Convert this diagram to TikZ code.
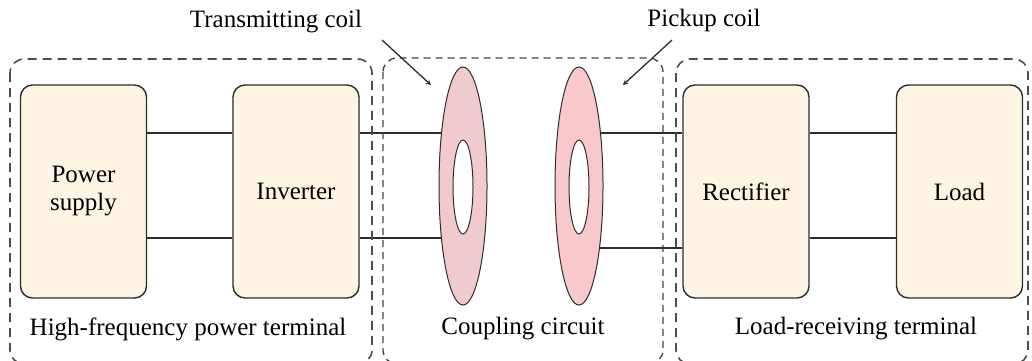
\documentclass[tikz,border=0pt]{standalone}
\usepackage{fontspec}
\setmainfont{Liberation Serif}
\usepackage{tikz}
\usetikzlibrary{shapes.geometric, backgrounds}

\definecolor{boxfill}{RGB}{253,244,228}
\definecolor{coilA}{RGB}{241,202,205}
\definecolor{coilB}{RGB}{248,200,203}
\definecolor{edge}{RGB}{45,45,45}

\tikzset{
  block/.style={draw=edge, line width=1.4pt, fill=boxfill, rounded corners=12pt,
    minimum width=126pt, minimum height=213pt, align=center, inner sep=0pt},
  group/.style={draw=edge!85, line width=1.6pt, dash pattern=on 9pt off 6pt, rounded corners=14pt},
  subgroup/.style={draw=edge!90, line width=1.3pt, dash pattern=on 7pt off 5pt, rounded corners=14pt},
  coil/.style={ellipse, draw=edge, line width=1pt, inner sep=0pt,
    minimum width=48pt, minimum height=238pt},
  hole/.style={ellipse, draw=edge, line width=1pt, fill=white, inner sep=0pt,
    minimum width=20pt, minimum height=94pt},
  wire/.style={draw=edge, line width=1.2pt}
}

\begin{document}
\begin{tikzpicture}[x=1pt, y=-1pt, font=\fontsize{25}{28}\selectfont]
  \useasboundingbox (0,0) rectangle (1032,360);
  \begin{scope}
  \clip (0,0) rectangle (1032,360);

  % terminals
  \draw[group] (10,59) rectangle (372,364);
  \draw[subgroup] (383,58) rectangle (663,364);
  \draw[group] (676,59) rectangle (1028,364);

  \node[block] (ps)   at (83.5,191.5)  {Power\\supply};
  \node[block] (inv)  at (296,191.5)   {Inverter};
  \node[block] (rect) at (746,191.5)   {Rectifier};
  \node[block] (load) at (959.5,191.5) {Load};

  \node[coil, fill=coilA] (tx) at (463,186) {};
  \node[hole] (txh) at (463,187) {};
  \node[coil, fill=coilB] (rx) at (579,186) {};
  \node[hole] (rxh) at (579,187) {};

  \coordinate (hi) at (0,133);
  \coordinate (lo) at (0,238);
  \coordinate (lo2) at (0,248);

  \begin{scope}[on background layer]
    \draw[wire] (ps.east |- hi) -- (inv.west |- hi);
    \draw[wire] (ps.east |- lo) -- (inv.west |- lo);
    \draw[wire] (inv.east |- hi) -- (tx.center |- hi);
    \draw[wire] (inv.east |- lo) -- (tx.center |- lo);
    \draw[wire] (rx.center |- hi) -- (rect.west |- hi);
    \draw[wire] (rx.center |- lo2) -- (rect.west |- lo2);
    \draw[wire] (rect.east |- hi) -- (load.west |- hi);
    \draw[wire] (rect.east |- lo) -- (load.west |- lo);
  \end{scope}

  % labels
  \node (lblA) at (188,329) {High-frequency power terminal};
  \node (lblB) at (523,329) {Coupling circuit};
  \node (lblC) at (856,329) {Load-receiving terminal};

  \node (txl) at (276,22) {Transmitting coil};
  \node (rxl) at (704,20) {Pickup coil};
  \coordinate (txa) at (382,40);
  \coordinate (txb) at (431,85);
  \coordinate (rxa) at (672,40);
  \coordinate (rxb) at (623,85);
  \draw[->, >=stealth, line width=1.3pt, edge] (txa) -- (txb);
  \draw[->, >=stealth, line width=1.3pt, edge] (rxa) -- (rxb);
  \end{scope}
\end{tikzpicture}
\end{document}
